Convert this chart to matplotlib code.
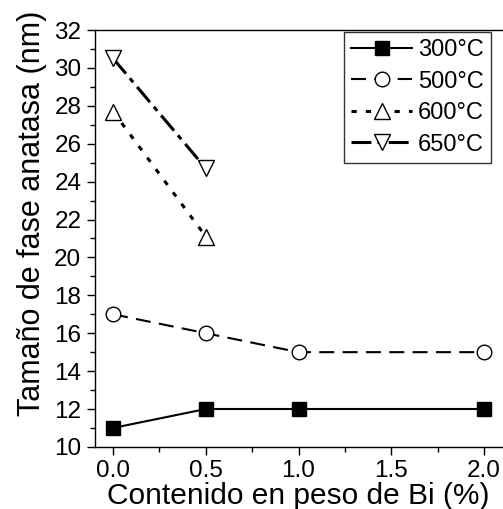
import matplotlib
matplotlib.use("Agg")
import matplotlib.pyplot as plt
from matplotlib.ticker import MultipleLocator, FormatStrFormatter

plt.rcParams['font.family'] = ['Liberation Sans', 'DejaVu Sans']

x_all = [0.0, 0.5, 1.0, 2.0]
x_short = [0.0, 0.5]
y300 = [11, 12, 12, 12]
y500 = [17, 16, 15, 15]
y600 = [27.7, 21.1]
y650 = [30.5, 24.7]
labels = ["300°C", "500°C", "600°C", "650°C"]

fig = plt.figure(figsize=(5.03, 5.09), dpi=100)
ax = fig.add_axes([0.188, 0.122, 0.811, 0.819])

ms = 10.5
ax.plot(x_all, y300, color='black', lw=1.5, marker='s', ms=ms, mfc='black', mec='black', label=labels[0])
ax.plot(x_all, y500, color='black', lw=1.5, ls=(0, (7.2, 4)), marker='o', ms=ms, mfc='white', mec='black', mew=1, label=labels[1])
ax.plot(x_short, y600, color='black', lw=2.2, ls=(0, (1.7, 3.0)), marker='^', ms=ms + 1.5, mfc='white', mec='black', mew=1, label=labels[2])
ax.plot(x_short, y650, color='black', lw=2.2, ls=(0, (6.5, 2.0, 1.7, 2.0)), marker='v', ms=ms + 1.5, mfc='white', mec='black', mew=1, label=labels[3])

ax.set_xlim(-0.1, 2.1)
ax.set_ylim(10, 32)
ax.xaxis.set_major_locator(MultipleLocator(0.5))
ax.xaxis.set_minor_locator(MultipleLocator(0.25))
ax.yaxis.set_major_locator(MultipleLocator(2))
ax.yaxis.set_minor_locator(MultipleLocator(1))
ax.xaxis.set_major_formatter(FormatStrFormatter('%.1f'))
ax.tick_params(which='major', direction='out', length=6, width=1, labelsize=17.5)
ax.tick_params(which='minor', direction='out', length=3.5, width=1)
ax.tick_params(top=False, right=False)
ax.spines['right'].set_visible(False)
for s in ['left', 'bottom', 'top']:
    ax.spines[s].set_linewidth(1)

ax.set_xlabel("Contenido en peso de Bi (%)", fontsize=21.5, labelpad=0)
ax.set_ylabel("Tamaño de fase anatasa (nm)", fontsize=22, labelpad=5)
ax.yaxis.label.set_y(0.56)

leg = ax.legend(loc='upper right', bbox_to_anchor=(0.972, 0.995), fontsize=17, frameon=True,
                fancybox=False, edgecolor='black', handlelength=2.6, borderpad=0.3,
                labelspacing=0.4, handletextpad=0.25, borderaxespad=0)
leg.get_frame().set_linewidth(1)

fig.savefig("out.png", dpi=100)
